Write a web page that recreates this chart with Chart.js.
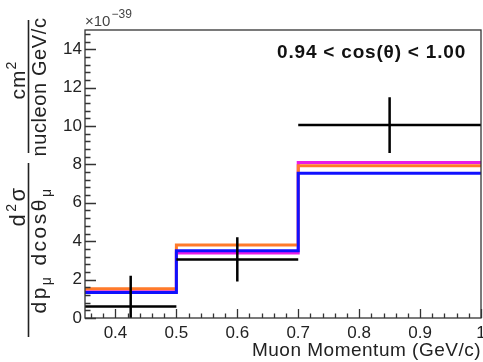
<!DOCTYPE html>
<html>
<head>
<meta charset="utf-8">
<script src="https://cdn.jsdelivr.net/npm/chart.js@4.4.0/dist/chart.umd.min.js"></script>
<style>
    html, body { margin: 0; padding: 0; background: #fff; }
</style>
</head>
<body>
<canvas id="xsecChart" width="483" height="362"></canvas>
<script>
    // bin edges, muon momentum (GeV/c)
    var binEdges = [0.35, 0.5, 0.7, 1.0];
    // measured points (x10^-39)
    var dataCenters = [0.425, 0.6, 0.85];
    var dataValues = [0.6, 3.05, 10.05];
    var dataErrors = [1.6, 1.15, 1.45];
    // model predictions per bin
    var modelOrange = [1.52, 3.80, 7.93];
    var modelMagenta = [1.37, 3.38, 8.10];
    var modelBlue = [1.33, 3.50, 7.54];
    // axis ticks
    var xTicks = [0.4, 0.5, 0.6, 0.7, 0.8, 0.9, 1.0];
    var yTicks = [0, 2, 4, 6, 8, 10, 12, 14];
    var xMinorStep = 0.02;
    var yMinorStep = 0.4;

    var FONT = '"Liberation Sans", Arial, Helvetica, sans-serif';
    var TEXT = '#222';

    function histPoints(vals) {
        var pts = [];
        for (var i = 0; i < vals.length; i++) pts.push({x: binEdges[i], y: vals[i]});
        pts.push({x: binEdges[vals.length], y: vals[vals.length - 1]});
        return pts;
    }
    function hBars() {
        var pts = [];
        for (var i = 0; i < dataValues.length; i++) {
            pts.push({x: binEdges[i], y: dataValues[i]});
            pts.push({x: binEdges[i + 1], y: dataValues[i]});
            pts.push({x: binEdges[i + 1], y: null});
        }
        return pts;
    }
    function vBars() {
        var pts = [];
        for (var i = 0; i < dataValues.length; i++) {
            pts.push({x: dataCenters[i], y: dataValues[i] - dataErrors[i]});
            pts.push({x: dataCenters[i], y: dataValues[i] + dataErrors[i]});
            pts.push({x: dataCenters[i], y: null});
        }
        return pts;
    }

    function line(data, color, width, stepped) {
        return {
            data: data, borderColor: color, borderWidth: width,
            pointRadius: 0, stepped: stepped || false, fill: false,
            spanGaps: false, tension: 0
        };
    }

    // draws a run of text pieces rotated by -90deg, centred on yc
    function rotRun(ctx, pieces, xBase, yc, spacing) {
        ctx.letterSpacing = (spacing || 0) + 'px';
        var total = 0;
        pieces.forEach(function (p) {
            ctx.font = p.size + 'px ' + FONT;
            p.w = ctx.measureText(p.t).width;
            total += p.w + (p.gap || 0);
        });
        ctx.save();
        ctx.translate(xBase, yc);
        ctx.rotate(-Math.PI / 2);
        var u = -total / 2;
        pieces.forEach(function (p) {
            u += (p.gap || 0);
            ctx.font = p.size + 'px ' + FONT;
            ctx.fillText(p.t, u, p.dy || 0);
            u += p.w;
        });
        ctx.restore();
        ctx.letterSpacing = '0px';
    }

    var rootStyle = {
        id: 'rootStyle',
        afterDraw: function (chart) {
            var ctx = chart.ctx, a = chart.chartArea;
            var xs = chart.scales.x, ys = chart.scales.y;
            ctx.save();
            ctx.strokeStyle = '#333';
            ctx.lineWidth = 1.3;
            ctx.strokeRect(a.left, a.top, a.right - a.left, a.bottom - a.top);

            ctx.beginPath();
            // y ticks, inward
            for (var v = 0; v <= 15.0001; v += yMinorStep) {
                var y = Math.round(ys.getPixelForValue(v)) + 0.5;
                var major = Math.abs(v / 2 - Math.round(v / 2)) < 1e-6;
                ctx.moveTo(a.left, y);
                ctx.lineTo(a.left + (major ? 11 : 5.5), y);
            }
            // x ticks, inward
            for (var w = 0.36; w <= 1.0001; w += xMinorStep) {
                var x = Math.round(xs.getPixelForValue(w)) + 0.5;
                var maj = Math.abs(w * 10 - Math.round(w * 10)) < 1e-6;
                ctx.moveTo(x, a.bottom);
                ctx.lineTo(x, a.bottom - (maj ? 9 : 4.5));
            }
            ctx.stroke();

            ctx.textBaseline = 'alphabetic';

            // exponent label
            ctx.fillStyle = '#444';
            ctx.textAlign = 'left';
            ctx.font = '15px ' + FONT;
            ctx.fillText('\u00d710', 85, 26);
            var w10 = ctx.measureText('\u00d710').width;
            ctx.font = '12px ' + FONT;
            ctx.fillText('\u221239', 85 + w10 + 1, 18);

            // selection label
            ctx.fillStyle = '#111';
            ctx.textAlign = 'right';
            ctx.font = 'bold 19px ' + FONT;
            ctx.letterSpacing = '0.8px';
            ctx.fillText('0.94 < cos(\u03b8) < 1.00', 466, 58);
            ctx.letterSpacing = '0px';

            // x title
            ctx.fillStyle = TEXT;
            ctx.font = '19px ' + FONT;
            ctx.letterSpacing = '0.5px';
            ctx.fillText('Muon Momentum (GeV/c)', 481, 356);
            ctx.letterSpacing = '0px';

            // y title: two stacked fractions
            ctx.textAlign = 'left';
            rotRun(ctx, [
                {t: 'd', size: 22}, {t: '2', size: 14, dy: -9}, {t: '\u03c3', size: 22}
            ], 25, 206, 2.5);
            rotRun(ctx, [
                {t: 'dp', size: 21}, {t: '\u03bc', size: 14, dy: 5},
                {t: 'dcos\u03b8', size: 21, gap: 9}, {t: '\u03bc', size: 14, dy: 5}
            ], 46, 250, 2.5);
            rotRun(ctx, [
                {t: 'cm', size: 21}, {t: '2', size: 14, dy: -9}
            ], 25, 80, 1);
            rotRun(ctx, [
                {t: 'nucleon GeV/c', size: 20}
            ], 46, 87, 0.6);
            ctx.strokeStyle = '#222';
            ctx.lineWidth = 1.6;
            ctx.beginPath();
            ctx.moveTo(28.5, 163); ctx.lineTo(28.5, 337);
            ctx.moveTo(28.5, 20); ctx.lineTo(28.5, 153);
            ctx.stroke();
            ctx.restore();
        }
    };

    var ctx = document.getElementById('xsecChart');
    var myChart = new Chart(ctx, {
        type: 'line',
        data: {
            datasets: [
                line(hBars(), '#000', 2.5),
                line(vBars(), '#000', 2.5),
                line(histPoints(modelBlue), '#1010ff', 3, 'before'),
                line(histPoints(modelOrange), '#ff7a2a', 3, 'before'),
                line(histPoints(modelMagenta), '#e81ce8', 3, 'before')
            ]
        },
        options: {
            responsive: false,
            animation: false,
            events: [],
            layout: { padding: { top: 30, right: 2, left: 0, bottom: 0 } },
            plugins: { legend: { display: false }, tooltip: { enabled: false } },
            scales: {
                x: {
                    type: 'linear', min: 0.35, max: 1.0,
                    grid: { display: false, drawTicks: false },
                    border: { display: false },
                    afterBuildTicks: function (s) { s.ticks = xTicks.map(function (v) { return {value: v}; }); },
                    afterFit: function (s) { s.height = 44; s.paddingLeft = 0; s.paddingRight = 0; },
                    ticks: {
                        padding: 5, color: TEXT, maxRotation: 0, autoSkip: false,
                        font: { family: FONT, size: 17 },
                        callback: function (v) { return String(+v.toFixed(2)); }
                    }
                },
                y: {
                    type: 'linear', min: 0, max: 15,
                    grid: { display: false, drawTicks: false },
                    border: { display: false },
                    afterBuildTicks: function (s) { s.ticks = yTicks.map(function (v) { return {value: v}; }); },
                    afterFit: function (s) { s.width = 85; s.paddingTop = 0; s.paddingBottom = 0; },
                    ticks: {
                        padding: 3, color: TEXT,
                        font: { family: FONT, size: 17 },
                        callback: function (v) { return String(v); }
                    }
                }
            }
        },
        plugins: [rootStyle]
    });
</script>
</body>
</html>
